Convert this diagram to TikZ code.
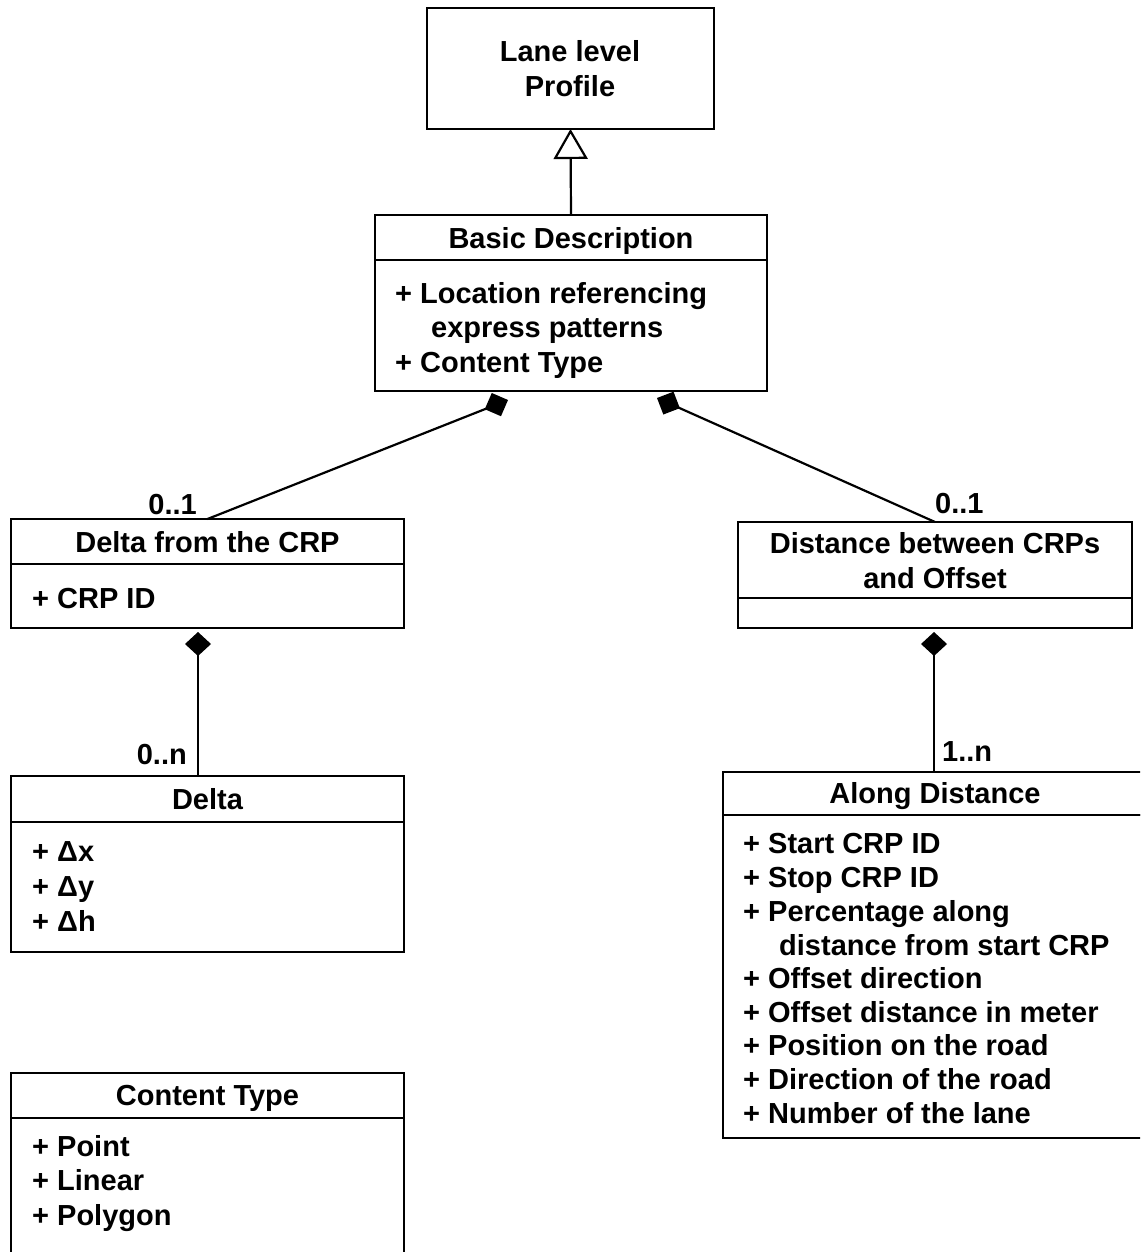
\documentclass[tikz,border=0pt]{standalone}
\usepackage{fontspec}
\setmainfont{Liberation Sans}
\usetikzlibrary{arrows.meta}
\begin{document}
\begin{tikzpicture}[x=1pt,y=-1pt,
  box/.style={draw, line width=2.4pt, rectangle, inner sep=0pt, outer sep=0pt, anchor=north west},
  lbl/.style={font=\fontsize{29}{34}\selectfont\bfseries, inner sep=0pt, anchor=base west},
  title/.style={lbl, anchor=base},
  link/.style={line width=2.2pt},
  comp/.style={link, {Diamond[length=25pt,width=25pt]}-},
  compv/.style={link, {Diamond[length=24pt,width=26pt]}-},
  gen/.style={link, -{Triangle[open,length=30pt,width=34pt,fill=white]}}
]
\useasboundingbox (0,0) rectangle (1140,1252);
\fill[white] (0,0) rectangle (1140,1252);
\clip (0,0) rectangle (1140,1252);

% class compartments
\node[box, minimum width=287pt, minimum height=121pt] (lane) at (427,8) {};
\node[box, minimum width=392pt, minimum height=45pt]  (basicH) at (375,215) {};
\node[box, minimum width=392pt, minimum height=131pt] (basicB) at (375,260) {};
\node[box, minimum width=393pt, minimum height=45pt]  (dcrpH) at (11,519) {};
\node[box, minimum width=393pt, minimum height=64pt]  (dcrpB) at (11,564) {};
\node[box, minimum width=394pt, minimum height=76pt]  (distH) at (738,522) {};
\node[box, minimum width=394pt, minimum height=30pt]  (distB) at (738,598) {};
\node[box, minimum width=393pt, minimum height=46pt]  (deltaH) at (11,776) {};
\node[box, minimum width=393pt, minimum height=130pt] (deltaB) at (11,822) {};
\node[box, minimum width=425pt, minimum height=43pt]  (alongH) at (723,772) {};
\node[box, minimum width=425pt, minimum height=323pt] (alongB) at (723,815) {};
\node[box, minimum width=393pt, minimum height=45pt]  (contentH) at (11,1073) {};
\node[box, minimum width=393pt, minimum height=150pt] (contentB) at (11,1118) {};

% class names
\node[title] (laneT1) at (570,62) {Lane level};
\node[title] (laneT2) at (570,97) {Profile};
\node[title] (basicT) at (571,248) {Basic Description};
\node[title] (dcrpT) at (207.5,552) {Delta from the CRP};
\node[title] (distT1) at (935,553) {Distance between CRPs};
\node[title] (distT2) at (935,588) {and Offset};
\node[title] (deltaT) at (207.5,809) {Delta};
\node[title] (alongT) at (935,803) {Along Distance};
\node[title] (contentT) at (207.5,1105) {Content Type};

% attributes
\node[lbl] (basicA1) at (395,303) {+ Location referencing};
\node[lbl] (basicA2) at (431,337) {express patterns};
\node[lbl] (basicA3) at (395,372) {+ Content Type};

\node[lbl] (dcrpA1) at (32,608) {+ CRP ID};

\node[lbl] (deltaA1) at (32,861) {+ Δx};
\node[lbl] (deltaA2) at (32,896) {+ Δy};
\node[lbl] (deltaA3) at (32,931) {+ Δh};

\node[lbl] (alongA1) at (743,853) {+ Start CRP ID};
\node[lbl] (alongA2) at (743,887) {+ Stop CRP ID};
\node[lbl] (alongA3) at (743,921) {+ Percentage along};
\node[lbl] (alongA4) at (779,955) {distance from start CRP};
\node[lbl] (alongA5) at (743,988) {+ Offset direction};
\node[lbl] (alongA6) at (743,1022) {+ Offset distance in meter};
\node[lbl] (alongA7) at (743,1055) {+ Position on the road};
\node[lbl] (alongA8) at (743,1089) {+ Direction of the road};
\node[lbl] (alongA9) at (743,1123) {+ Number of the lane};

\node[lbl] (contentA1) at (32,1156) {+ Point};
\node[lbl] (contentA2) at (32,1190) {+ Linear};
\node[lbl] (contentA3) at (32,1225) {+ Polygon};

% generalization
\draw[gen] (basicH.north) -- (lane.south);

% compositions
\coordinate (bdL) at (508,400);
\coordinate (bdR) at (657,398);
\coordinate (dcrpD) at (198,632);
\coordinate (distD) at (934,632);
\draw[comp] (bdL) -- (dcrpH.north);
\draw[comp] (bdR) -- (distH.north);
\draw[compv] (dcrpD) -- (dcrpD |- deltaH.north);
\draw[compv] (distD) -- (distD |- alongH.north);

% multiplicities
\node[lbl, anchor=base east] (mL) at (197,514) {0..1};
\node[lbl] (mR) at (935,513) {0..1};
\node[lbl, anchor=base east] (mD) at (187,764) {0..n};
\node[lbl] (mA) at (942,761) {1..n};
\end{tikzpicture}
\end{document}
